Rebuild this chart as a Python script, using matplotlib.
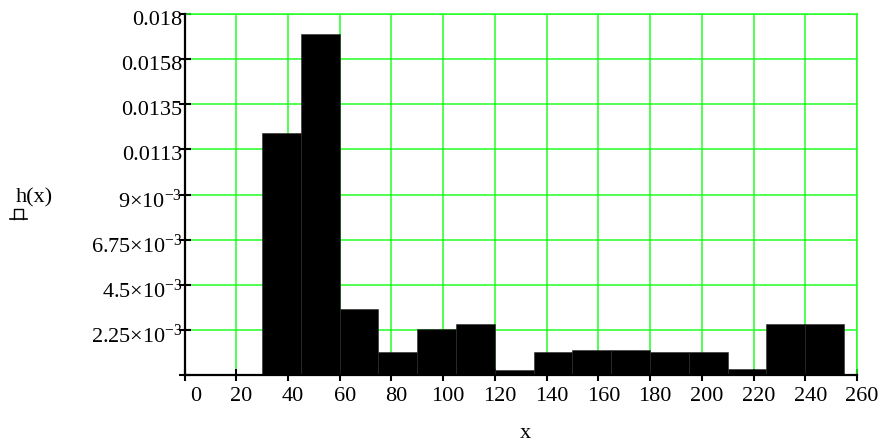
import matplotlib
matplotlib.use("Agg")
import matplotlib.pyplot as plt
from matplotlib.lines import Line2D
from matplotlib.transforms import ScaledTranslation

# histogram h(x): bin left edges (width 15) and densities
bin_left = [0, 15, 30, 45, 60, 75, 90, 105, 120, 135, 150, 165, 180, 195, 210, 225, 240]
bin_width = 15
h_vals = [0.0, 0.0, 0.01205, 0.01700, 0.00329, 0.00116, 0.00228, 0.00256, 0.00023,
          0.00116, 0.00123, 0.00123, 0.00115, 0.00115, 0.00031, 0.00256, 0.00256]

x_ticks = list(range(0, 261, 20))
y_ticks = [0, 0.00225, 0.0045, 0.00675, 0.009, 0.01125, 0.0135, 0.01575, 0.018]
y_ticklabels = ["", r"$\mathrm{2.25{\times}10^{-3}}$", r"$\mathrm{4.5{\times}10^{-3}}$",
                r"$\mathrm{6.75{\times}10^{-3}}$", r"$\mathrm{9{\times}10^{-3}}$",
                "0.0113", "0.0135", "0.0158", "0.018"]

plt.rcParams["font.family"] = "Liberation Serif"
plt.rcParams["mathtext.fontset"] = "custom"
plt.rcParams["mathtext.rm"] = "Liberation Serif"
plt.rcParams["mathtext.it"] = "Liberation Serif:italic"

GREEN = "#22ff22"
FS = 16

fig = plt.figure(figsize=(8.82, 4.45), dpi=100)
ax = fig.add_axes([184.5 / 882, 1 - 375 / 445, 672.5 / 882, 361 / 445])

ax.bar(bin_left, h_vals, width=bin_width, align="edge", color="black",
       edgecolor="#2a2a2a", linewidth=0.4, zorder=3)

ax.set_xlim(0, 260)
ax.set_ylim(0, 0.018)
ax.set_xticks(x_ticks)
ax.set_yticks(y_ticks)
ax.set_yticklabels(y_ticklabels)
ax.grid(True, color=GREEN, linewidth=1.1)
ax.set_axisbelow(True)

for side in ("top", "right"):
    ax.spines[side].set_color(GREEN)
    ax.spines[side].set_linewidth(1.1)
for side in ("left", "bottom"):
    ax.spines[side].set_linewidth(1.6)
    ax.spines[side].set_zorder(4)

ax.tick_params(axis="both", direction="inout", length=9, width=1.5, labelsize=FS)
ax.tick_params(axis="x", pad=4)
ax.tick_params(axis="y", pad=-3)

for lab in ax.get_yticklabels():
    lab.set_transform(lab.get_transform() + ScaledTranslation(0, -0.04, fig.dpi_scale_trans))
for i, lab in enumerate(ax.get_xticklabels()):
    dx = 0.11 if i == 0 else 0.05
    lab.set_transform(lab.get_transform() + ScaledTranslation(dx, 0, fig.dpi_scale_trans))

ax.set_xlabel("x", fontsize=FS, va="center")
ax.xaxis.set_label_coords(0.507, -0.163)
ax.set_ylabel("h(x)", fontsize=FS, rotation=0, va="center", ha="center")
ax.yaxis.set_label_coords(-0.223, 0.49)

# small trace-style marker under the y label
fx = lambda px: px / 882
fy = lambda py: 1 - py / 445
fig.add_artist(Line2D([fx(10), fx(27)], [fy(218.5), fy(218.5)], color="black", lw=1.2))
fig.add_artist(Line2D([fx(14), fx(14), fx(22.5), fx(22.5)],
                      [fy(218.5), fy(208.5), fy(208.5), fy(218.5)], color="black", lw=1.0))

fig.savefig("out.png", dpi=100)
